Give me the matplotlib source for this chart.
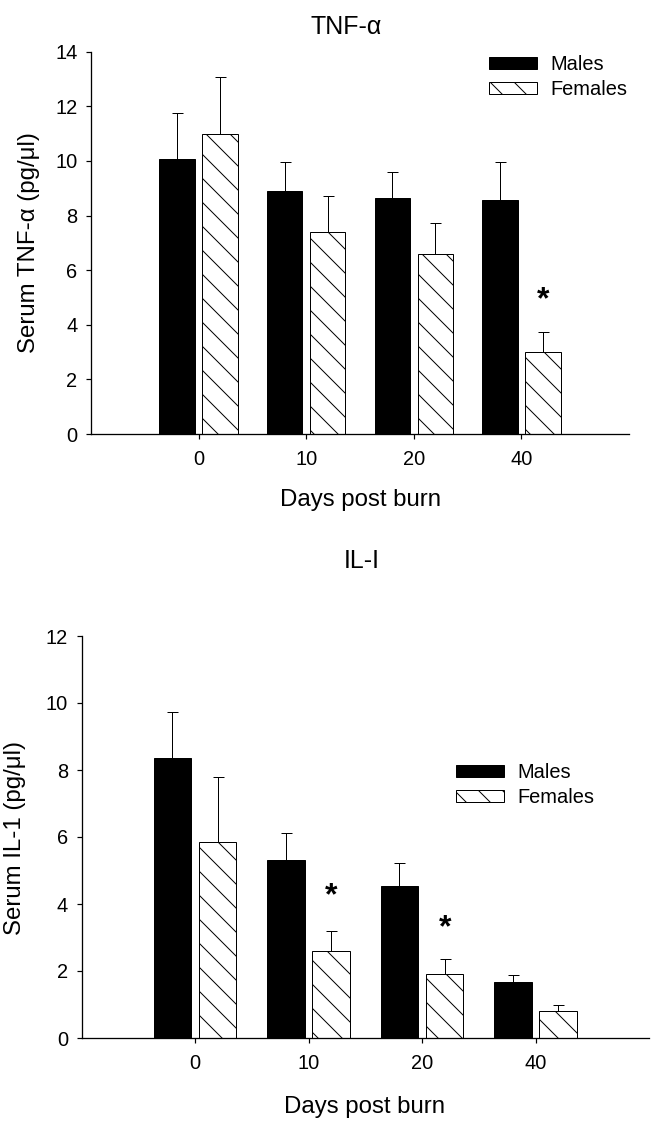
import numpy as np
import matplotlib
matplotlib.use('Agg')
import matplotlib.pyplot as plt

plt.rcParams['font.family'] = ['Liberation Sans', 'DejaVu Sans']
plt.rcParams['hatch.linewidth'] = 1.0
plt.rcParams['hatch.color'] = 'black'

# data
days = ['0', '10', '20', '40']

tnf_male = [10.08, 8.90, 8.64, 8.57]
tnf_male_err = [1.69, 1.07, 0.94, 1.40]
tnf_female = [10.97, 7.41, 6.60, 3.01]
tnf_female_err = [2.12, 1.29, 1.14, 0.71]
tnf_stars = [(3, 4.9)]

il1_male = [8.36, 5.32, 4.55, 1.66]
il1_male_err = [1.37, 0.80, 0.66, 0.23]
il1_female = [5.85, 2.59, 1.91, 0.80]
il1_female_err = [1.93, 0.59, 0.44, 0.19]
il1_stars = [(1, 4.24), (2, 3.28)]

W, H = 657, 1121
fig = plt.figure(figsize=(W / 72, H / 72), dpi=72)


def panel(rect, male, male_err, female, female_err, stars, ymax):
    ax = fig.add_axes(rect)
    x = np.arange(len(days))
    w = 0.33
    zeros = np.zeros(len(days))
    ax.bar(x - 0.2, male, w, color='black', edgecolor='black', linewidth=1,
           label='Males', zorder=2)
    ax.bar(x + 0.2, female, w, color='white', edgecolor='black', linewidth=1,
           hatch='\\', label='Females', zorder=2)
    ax.errorbar(x - 0.2, male, yerr=[zeros, male_err], fmt='none', ecolor='black',
                elinewidth=1, capsize=5.5, capthick=1, zorder=1)
    ax.errorbar(x + 0.2, female, yerr=[zeros, female_err], fmt='none', ecolor='black',
                elinewidth=1, capsize=5.5, capthick=1, zorder=1)
    for i, yv in stars:
        ax.text(i + 0.2, yv, '*', ha='center', va='center', fontsize=32,
                fontweight='bold')
    ax.set_xlim(-1, 4)
    ax.set_ylim(0, ymax)
    ax.set_xticks(x)
    ax.set_xticklabels(days)
    ax.set_yticks(np.arange(0, ymax + 1, 2))
    for s in ['top', 'right']:
        ax.spines[s].set_visible(False)
    for s in ['left', 'bottom']:
        ax.spines[s].set_linewidth(1.3)
    ax.tick_params(axis='y', direction='out', length=5.5, width=1.2, pad=8,
                   labelsize=20)
    ax.tick_params(axis='x', direction='out', length=5, width=1.2, pad=11,
                   labelsize=20)
    return ax


ax1 = panel([91 / W, 1 - 434 / H, (629 - 91) / W, (434 - 51.7) / H],
            tnf_male, tnf_male_err, tnf_female, tnf_female_err, tnf_stars, 14)
ax2 = panel([81.5 / W, 1 - 1038 / H, (649 - 81.5) / W, (1038 - 636) / H],
            il1_male, il1_male_err, il1_female, il1_female_err, il1_stars, 12)

fig.text(346 / W, 1 - 27 / H, 'TNF-α', ha='center', va='center', fontsize=25)
fig.text(362 / W, 1 - 561 / H, 'IL-I', ha='center', va='center', fontsize=25)

fig.text(360 / W, 1 - 500 / H, 'Days post burn', ha='center', va='center', fontsize=24)
fig.text(365 / W, 1 - 1107 / H, 'Days post burn', ha='center', va='center', fontsize=24)

fig.text(29 / W, 1 - 243 / H, 'Serum TNF-α (pg/μl)', ha='center', va='center',
         rotation=90, fontsize=24)
fig.text(15 / W, 1 - 838 / H, 'Serum IL-1 (pg/μl)', ha='center', va='center',
         rotation=90, fontsize=24)

leg_kw = dict(frameon=False, fontsize=20, handlelength=2.4, handleheight=0.55,
              handletextpad=0.65, labelspacing=0.3, borderpad=0, borderaxespad=0,
              loc='center left')
h, l = ax1.get_legend_handles_labels()
fig.legend(h, l, bbox_to_anchor=(489 / W, 1 - 77 / H), **leg_kw)
h, l = ax2.get_legend_handles_labels()
fig.legend(h, l, bbox_to_anchor=(456 / W, 1 - 785 / H), **leg_kw)

fig.savefig('out.png', dpi=72)
